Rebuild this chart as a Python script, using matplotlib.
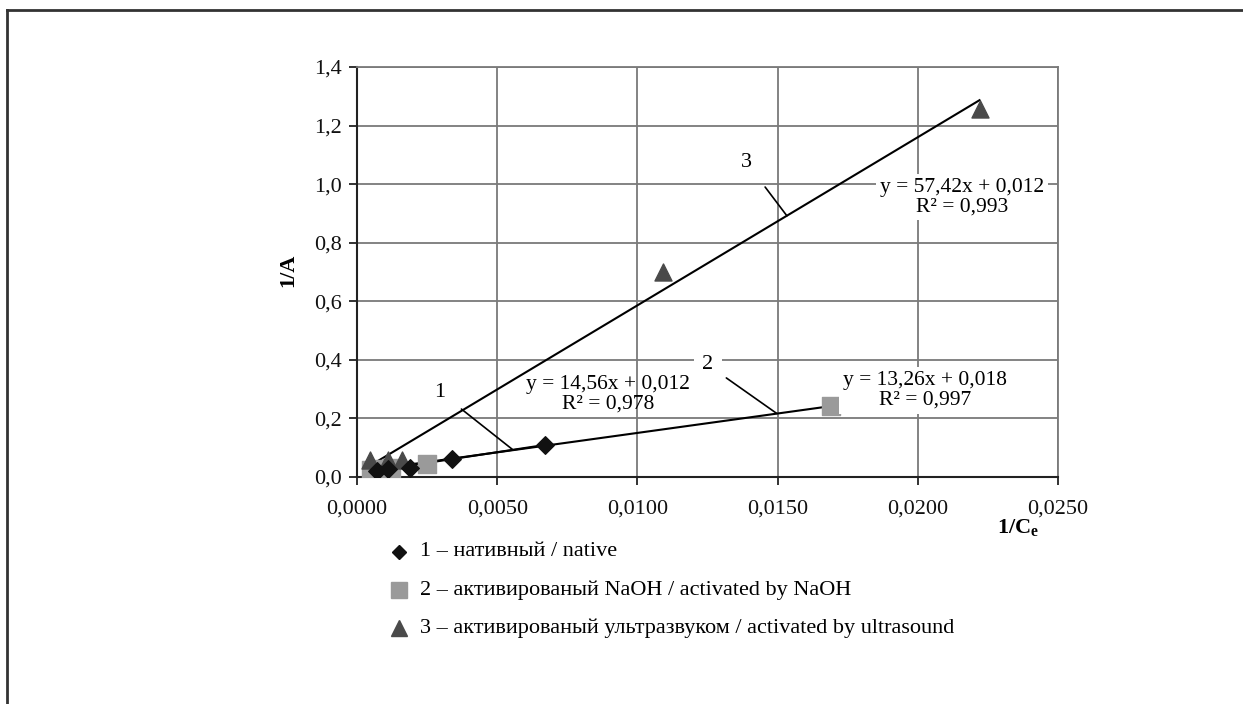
import matplotlib.pyplot as plt
import numpy as np
from matplotlib.lines import Line2D

plt.rcParams['font.family'] = ['Liberation Serif', 'DejaVu Serif']
plt.rcParams['mathtext.fontset'] = 'custom'
plt.rcParams['mathtext.rm'] = 'Liberation Serif'
plt.rcParams['mathtext.bf'] = 'Liberation Serif:bold'

# data
x_native = [0.0007, 0.0011, 0.0019, 0.0034, 0.0067]
y_native = [0.022, 0.027, 0.031, 0.062, 0.110]
x_naoh = [0.0005, 0.0008, 0.0012, 0.0025, 0.0169]
y_naoh = [0.024, 0.028, 0.031, 0.044, 0.243]
x_us = [0.00046, 0.0011, 0.0016, 0.0109, 0.0222]
y_us = [0.058, 0.058, 0.058, 0.700, 1.255]

# trendline coefficients (slope, intercept)
fit_native = (14.56, 0.012)
fit_naoh = (13.26, 0.018)
fit_us = (57.42, 0.012)

eq_native = "y = 14,56x + 0,012\nR² = 0,978"
eq_naoh = "y = 13,26x + 0,018\nR² = 0,997"
eq_us = "y = 57,42x + 0,012\nR² = 0,993"

legend_labels = ["1 – нативный / native",
                 "2 – активированый NaOH / activated by NaOH",
                 "3 – активированый ультразвуком / activated by ultrasound"]

xticks = np.arange(0, 0.0251, 0.005)
yticks = np.arange(0, 1.41, 0.2)

fig = plt.figure(figsize=(12.43, 7.04), dpi=100)
ax = fig.add_axes([0.2872, 0.3224, 0.564, 0.5824])

gc = '#7a7a7a'
ax.set_xlim(0, 0.025)
ax.set_ylim(0, 1.4)
ax.set_xticks(xticks)
ax.set_yticks(yticks)
ax.set_xticklabels([f"{v:.4f}".replace('.', ',') for v in xticks])
ax.set_yticklabels([f"{v:.1f}".replace('.', ',') for v in yticks])
ax.grid(True, color=gc, lw=1.3, zorder=0)
ax.set_axisbelow(True)
for s in ['top', 'right']:
    ax.spines[s].set_color(gc)
    ax.spines[s].set_linewidth(1.3)
for s in ['left', 'bottom']:
    ax.spines[s].set_color('#222222')
    ax.spines[s].set_linewidth(1.5)
ax.tick_params(labelsize=16, length=6, width=1.3, color='#222222', labelcolor='#111111')
ax.tick_params(axis='x', pad=10)
ax.tick_params(axis='y', pad=5)

# trendlines
for xs, (k, b) in [(x_native, fit_native), (x_naoh, fit_naoh), (x_us, fit_us)]:
    xx = np.array([min(xs), max(xs)])
    ax.plot(xx, k * xx + b, color='black', lw=1.5, zorder=3)

ax.scatter(x_naoh, y_naoh, marker='s', s=150, color='#9a9a9a', zorder=4)
ax.scatter(x_us, y_us, marker='^', s=150, color='#4a4a4a', zorder=4)
ax.scatter(x_native, y_native, marker='D', s=80, color='#111111', zorder=5)

# equation labels
ax.text(0.00895, 0.283, eq_native, ha='center', va='center', fontsize=15.5, zorder=6, linespacing=1.05)
ax.text(0.02027, 0.296, eq_naoh, ha='center', va='center', fontsize=15.5, zorder=6, linespacing=1.05,
        bbox=dict(facecolor='white', edgecolor='none', pad=3))
ax.text(0.02157, 0.956, eq_us, ha='center', va='center', fontsize=15.5, zorder=6, linespacing=1.05,
        bbox=dict(facecolor='white', edgecolor='none', pad=3))

# numbered leader lines
ax.annotate('1', xy=(0.00556, 0.093), xytext=(0.00296, 0.29), ha='center', va='center', fontsize=16,
            arrowprops=dict(arrowstyle='-', color='black', lw=1.2, shrinkA=12, shrinkB=0), zorder=6)
ax.annotate('2', xy=(0.01497, 0.217), xytext=(0.01251, 0.383), ha='center', va='center', fontsize=16,
            bbox=dict(facecolor='white', edgecolor='none', pad=6),
            arrowprops=dict(arrowstyle='-', color='black', lw=1.2, shrinkA=4, shrinkB=0), zorder=6)
ax.annotate('3', xy=(0.01533, 0.892), xytext=(0.0139, 1.073), ha='center', va='center', fontsize=16,
            arrowprops=dict(arrowstyle='-', color='black', lw=1.2, shrinkA=12, shrinkB=0), zorder=6)

# axis titles
fig.text(288 / 1243, 1 - 270 / 704, '1/A', rotation=90, ha='center', va='center',
         fontsize=16, fontweight='bold')
fig.text(1018 / 1243, 1 - 527 / 704, r'$\mathbf{1/C_e}$', ha='center', va='center', fontsize=16)

# legend below the plot
markers = [('D', '#111111', 7), ('s', '#9a9a9a', 11), ('^', '#4a4a4a', 11)]
for i, (lab, (m, c, ms)) in enumerate(zip(legend_labels, markers)):
    yy = 1 - (552 + 38 * i) / 704
    fig.add_artist(Line2D([399 / 1243], [yy], marker=m, color=c, markersize=ms, ls='none'))
    fig.text(420 / 1243, yy, lab, ha='left', va='center', fontsize=16)

# outer frame (top and left only)
fig.add_artist(Line2D([7 / 1243, 7 / 1243], [0, 1 - 10 / 704], color='#333333', lw=2))
fig.add_artist(Line2D([7 / 1243, 1], [1 - 10 / 704, 1 - 10 / 704], color='#333333', lw=2))

fig.savefig('out.png', dpi=100)
